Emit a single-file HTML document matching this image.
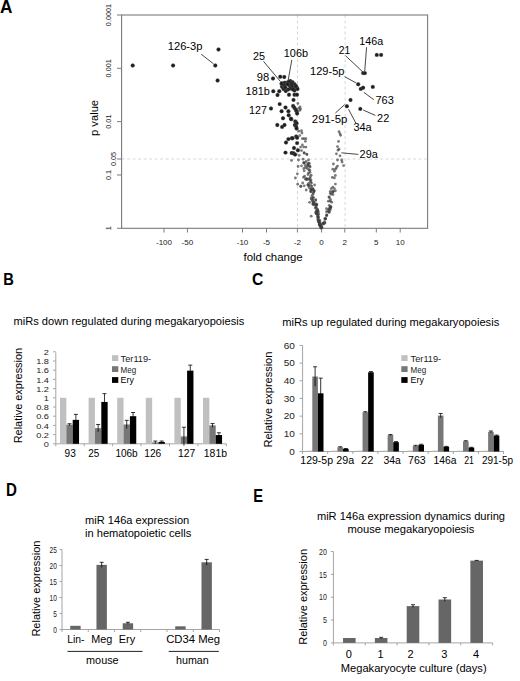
<!DOCTYPE html>
<html><head><meta charset="utf-8"><style>
html,body{margin:0;padding:0;background:#fff;width:520px;height:681px;overflow:hidden}
svg{display:block}
text{font-family:"Liberation Sans", sans-serif;}
</style></head><body>
<svg width="520" height="681" viewBox="0 0 520 681">
<rect width="520" height="681" fill="#fff"/>
<text x="-0.1" y="12.5" font-size="17.5" text-anchor="start" fill="#000" font-weight="bold" textLength="12.44" lengthAdjust="spacingAndGlyphs">A</text>
<line x1="121.6" y1="159.0" x2="427.6" y2="159.0" stroke="#d8d8d8" stroke-width="1" stroke-dasharray="3,2.5"/>
<line x1="297.5" y1="15.0" x2="297.5" y2="228.3" stroke="#d8d8d8" stroke-width="1" stroke-dasharray="3,2.5"/>
<line x1="345.1" y1="15.0" x2="345.1" y2="228.3" stroke="#d8d8d8" stroke-width="1" stroke-dasharray="3,2.5"/>
<rect x="121.6" y="15.0" width="306.0" height="213.3" fill="none" stroke="#7a7a7a" stroke-width="1.1"/>
<line x1="117" y1="15.0" x2="121.6" y2="15.0" stroke="#7a7a7a" stroke-width="1"/>
<text x="111" y="26.15" font-size="7.8" text-anchor="start" fill="#222" transform="rotate(-90 111 26.15)" textLength="22.29" lengthAdjust="spacingAndGlyphs">0.0001</text>
<line x1="117" y1="68.325" x2="121.6" y2="68.325" stroke="#7a7a7a" stroke-width="1"/>
<text x="111" y="77.45" font-size="7.8" text-anchor="start" fill="#222" transform="rotate(-90 111 77.45)" textLength="18.24" lengthAdjust="spacingAndGlyphs">0.001</text>
<line x1="117" y1="121.65" x2="121.6" y2="121.65" stroke="#7a7a7a" stroke-width="1"/>
<text x="111" y="128.74" font-size="7.8" text-anchor="start" fill="#222" transform="rotate(-90 111 128.74)" textLength="14.18" lengthAdjust="spacingAndGlyphs">0.01</text>
<line x1="117" y1="159.0" x2="121.6" y2="159.0" stroke="#7a7a7a" stroke-width="1"/>
<text x="115.6" y="166.09" font-size="7.8" text-anchor="start" fill="#222" transform="rotate(-90 115.6 166.09)" textLength="14.18" lengthAdjust="spacingAndGlyphs">0.05</text>
<line x1="117" y1="174.97500000000002" x2="121.6" y2="174.97500000000002" stroke="#7a7a7a" stroke-width="1"/>
<text x="111" y="180.04" font-size="7.8" text-anchor="start" fill="#222" transform="rotate(-90 111 180.04)" textLength="10.13" lengthAdjust="spacingAndGlyphs">0.1</text>
<line x1="117" y1="228.3" x2="121.6" y2="228.3" stroke="#7a7a7a" stroke-width="1"/>
<text x="111" y="230.32" font-size="7.8" text-anchor="start" fill="#222" transform="rotate(-90 111 230.32)" textLength="4.05" lengthAdjust="spacingAndGlyphs">1</text>
<text x="97.9" y="136.0" font-size="11" text-anchor="start" fill="#000" transform="rotate(-90 97.9 136.0)" textLength="36.10" lengthAdjust="spacingAndGlyphs">p value</text>
<line x1="164" y1="228.3" x2="164" y2="232.5" stroke="#7a7a7a" stroke-width="1"/>
<text x="164" y="245.3" font-size="8" text-anchor="middle" fill="#222">-100</text>
<line x1="187.4" y1="228.3" x2="187.4" y2="232.5" stroke="#7a7a7a" stroke-width="1"/>
<text x="187.4" y="245.3" font-size="8" text-anchor="middle" fill="#222">-50</text>
<line x1="242.5" y1="228.3" x2="242.5" y2="232.5" stroke="#7a7a7a" stroke-width="1"/>
<text x="242.5" y="245.3" font-size="8" text-anchor="middle" fill="#222">-10</text>
<line x1="266.5" y1="228.3" x2="266.5" y2="232.5" stroke="#7a7a7a" stroke-width="1"/>
<text x="266.5" y="245.3" font-size="8" text-anchor="middle" fill="#222">-5</text>
<line x1="297.4" y1="228.3" x2="297.4" y2="232.5" stroke="#7a7a7a" stroke-width="1"/>
<text x="297.4" y="245.3" font-size="8" text-anchor="middle" fill="#222">-2</text>
<line x1="321.6" y1="228.3" x2="321.6" y2="232.5" stroke="#7a7a7a" stroke-width="1"/>
<text x="321.6" y="245.3" font-size="8" text-anchor="middle" fill="#222">0</text>
<line x1="344.8" y1="228.3" x2="344.8" y2="232.5" stroke="#7a7a7a" stroke-width="1"/>
<text x="344.8" y="245.3" font-size="8" text-anchor="middle" fill="#222">2</text>
<line x1="376.3" y1="228.3" x2="376.3" y2="232.5" stroke="#7a7a7a" stroke-width="1"/>
<text x="376.3" y="245.3" font-size="8" text-anchor="middle" fill="#222">5</text>
<line x1="400.2" y1="228.3" x2="400.2" y2="232.5" stroke="#7a7a7a" stroke-width="1"/>
<text x="400.2" y="245.3" font-size="8" text-anchor="middle" fill="#222">10</text>
<text x="243.5" y="261.1" font-size="11.8" text-anchor="start" fill="#000" textLength="59.21" lengthAdjust="spacingAndGlyphs">fold change</text>
<circle cx="316.31" cy="213.75" r="1.4" fill="#3c3c3c" fill-opacity="0.68"/>
<circle cx="311.51" cy="199.36" r="1.4" fill="#3c3c3c" fill-opacity="0.68"/>
<circle cx="314.33" cy="204.42" r="1.4" fill="#3c3c3c" fill-opacity="0.68"/>
<circle cx="320.51" cy="225.45" r="1.4" fill="#3c3c3c" fill-opacity="0.68"/>
<circle cx="320.64" cy="226.35" r="1.4" fill="#3c3c3c" fill-opacity="0.68"/>
<circle cx="319.58" cy="224.93" r="1.4" fill="#3c3c3c" fill-opacity="0.68"/>
<circle cx="317.51" cy="209.32" r="1.4" fill="#3c3c3c" fill-opacity="0.68"/>
<circle cx="319.03" cy="222.55" r="1.4" fill="#3c3c3c" fill-opacity="0.68"/>
<circle cx="315.66" cy="200.39" r="1.4" fill="#3c3c3c" fill-opacity="0.68"/>
<circle cx="313.89" cy="202.61" r="1.4" fill="#3c3c3c" fill-opacity="0.68"/>
<circle cx="307.79" cy="185.04" r="1.4" fill="#3c3c3c" fill-opacity="0.68"/>
<circle cx="310.90" cy="190.23" r="1.4" fill="#3c3c3c" fill-opacity="0.68"/>
<circle cx="318.45" cy="221.65" r="1.4" fill="#3c3c3c" fill-opacity="0.68"/>
<circle cx="318.67" cy="214.43" r="1.4" fill="#3c3c3c" fill-opacity="0.68"/>
<circle cx="319.26" cy="220.05" r="1.4" fill="#3c3c3c" fill-opacity="0.68"/>
<circle cx="312.96" cy="199.89" r="1.4" fill="#3c3c3c" fill-opacity="0.68"/>
<circle cx="312.92" cy="203.90" r="1.4" fill="#3c3c3c" fill-opacity="0.68"/>
<circle cx="319.95" cy="225.38" r="1.4" fill="#3c3c3c" fill-opacity="0.68"/>
<circle cx="312.89" cy="198.06" r="1.4" fill="#3c3c3c" fill-opacity="0.68"/>
<circle cx="317.86" cy="214.18" r="1.4" fill="#3c3c3c" fill-opacity="0.68"/>
<circle cx="315.23" cy="208.06" r="1.4" fill="#3c3c3c" fill-opacity="0.68"/>
<circle cx="313.29" cy="193.05" r="1.4" fill="#3c3c3c" fill-opacity="0.68"/>
<circle cx="318.56" cy="217.26" r="1.4" fill="#3c3c3c" fill-opacity="0.68"/>
<circle cx="316.52" cy="204.89" r="1.4" fill="#3c3c3c" fill-opacity="0.68"/>
<circle cx="311.88" cy="195.90" r="1.4" fill="#3c3c3c" fill-opacity="0.68"/>
<circle cx="308.14" cy="184.87" r="1.4" fill="#3c3c3c" fill-opacity="0.68"/>
<circle cx="317.34" cy="209.60" r="1.4" fill="#3c3c3c" fill-opacity="0.68"/>
<circle cx="319.33" cy="221.31" r="1.4" fill="#3c3c3c" fill-opacity="0.68"/>
<circle cx="320.99" cy="226.27" r="1.4" fill="#3c3c3c" fill-opacity="0.68"/>
<circle cx="312.93" cy="194.36" r="1.4" fill="#3c3c3c" fill-opacity="0.68"/>
<circle cx="310.80" cy="189.48" r="1.4" fill="#3c3c3c" fill-opacity="0.68"/>
<circle cx="313.54" cy="197.41" r="1.4" fill="#3c3c3c" fill-opacity="0.68"/>
<circle cx="314.11" cy="202.48" r="1.4" fill="#3c3c3c" fill-opacity="0.68"/>
<circle cx="314.11" cy="191.04" r="1.4" fill="#3c3c3c" fill-opacity="0.68"/>
<circle cx="316.31" cy="207.14" r="1.4" fill="#3c3c3c" fill-opacity="0.68"/>
<circle cx="320.83" cy="225.33" r="1.4" fill="#3c3c3c" fill-opacity="0.68"/>
<circle cx="315.69" cy="199.53" r="1.4" fill="#3c3c3c" fill-opacity="0.68"/>
<circle cx="311.16" cy="191.84" r="1.4" fill="#3c3c3c" fill-opacity="0.68"/>
<circle cx="317.38" cy="211.03" r="1.4" fill="#3c3c3c" fill-opacity="0.68"/>
<circle cx="320.87" cy="227.01" r="1.4" fill="#3c3c3c" fill-opacity="0.68"/>
<circle cx="318.07" cy="220.61" r="1.4" fill="#3c3c3c" fill-opacity="0.68"/>
<circle cx="320.97" cy="225.41" r="1.4" fill="#3c3c3c" fill-opacity="0.68"/>
<circle cx="319.01" cy="222.31" r="1.4" fill="#3c3c3c" fill-opacity="0.68"/>
<circle cx="318.03" cy="210.80" r="1.4" fill="#3c3c3c" fill-opacity="0.68"/>
<circle cx="320.12" cy="224.45" r="1.4" fill="#3c3c3c" fill-opacity="0.68"/>
<circle cx="316.28" cy="203.82" r="1.4" fill="#3c3c3c" fill-opacity="0.68"/>
<circle cx="313.88" cy="191.95" r="1.4" fill="#3c3c3c" fill-opacity="0.68"/>
<circle cx="317.69" cy="215.75" r="1.4" fill="#3c3c3c" fill-opacity="0.68"/>
<circle cx="318.39" cy="212.21" r="1.4" fill="#3c3c3c" fill-opacity="0.68"/>
<circle cx="308.70" cy="185.86" r="1.4" fill="#3c3c3c" fill-opacity="0.68"/>
<circle cx="318.28" cy="220.25" r="1.4" fill="#3c3c3c" fill-opacity="0.68"/>
<circle cx="318.40" cy="217.73" r="1.4" fill="#3c3c3c" fill-opacity="0.68"/>
<circle cx="313.16" cy="202.08" r="1.4" fill="#3c3c3c" fill-opacity="0.68"/>
<circle cx="321.05" cy="227.82" r="1.4" fill="#3c3c3c" fill-opacity="0.68"/>
<circle cx="317.21" cy="211.75" r="1.4" fill="#3c3c3c" fill-opacity="0.68"/>
<circle cx="311.80" cy="186.06" r="1.4" fill="#3c3c3c" fill-opacity="0.68"/>
<circle cx="315.61" cy="205.32" r="1.4" fill="#3c3c3c" fill-opacity="0.68"/>
<circle cx="311.23" cy="198.25" r="1.4" fill="#3c3c3c" fill-opacity="0.68"/>
<circle cx="312.82" cy="188.42" r="1.4" fill="#3c3c3c" fill-opacity="0.68"/>
<circle cx="313.15" cy="189.52" r="1.4" fill="#3c3c3c" fill-opacity="0.68"/>
<circle cx="316.38" cy="210.74" r="1.4" fill="#3c3c3c" fill-opacity="0.68"/>
<circle cx="320.25" cy="223.44" r="1.4" fill="#3c3c3c" fill-opacity="0.68"/>
<circle cx="319.66" cy="225.26" r="1.4" fill="#3c3c3c" fill-opacity="0.68"/>
<circle cx="317.68" cy="218.81" r="1.4" fill="#3c3c3c" fill-opacity="0.68"/>
<circle cx="315.80" cy="213.04" r="1.4" fill="#3c3c3c" fill-opacity="0.68"/>
<circle cx="320.78" cy="227.99" r="1.4" fill="#3c3c3c" fill-opacity="0.68"/>
<circle cx="319.67" cy="223.54" r="1.4" fill="#3c3c3c" fill-opacity="0.68"/>
<circle cx="321.44" cy="226.88" r="1.4" fill="#3c3c3c" fill-opacity="0.68"/>
<circle cx="312.30" cy="200.98" r="1.4" fill="#3c3c3c" fill-opacity="0.68"/>
<circle cx="317.76" cy="216.90" r="1.4" fill="#3c3c3c" fill-opacity="0.68"/>
<circle cx="315.75" cy="211.98" r="1.4" fill="#3c3c3c" fill-opacity="0.68"/>
<circle cx="314.27" cy="190.65" r="1.4" fill="#3c3c3c" fill-opacity="0.68"/>
<circle cx="315.74" cy="207.50" r="1.4" fill="#3c3c3c" fill-opacity="0.68"/>
<circle cx="319.35" cy="224.22" r="1.4" fill="#3c3c3c" fill-opacity="0.68"/>
<circle cx="316.48" cy="212.92" r="1.4" fill="#3c3c3c" fill-opacity="0.68"/>
<circle cx="310.53" cy="191.53" r="1.4" fill="#3c3c3c" fill-opacity="0.68"/>
<circle cx="321.56" cy="226.98" r="1.4" fill="#3c3c3c" fill-opacity="0.68"/>
<circle cx="313.55" cy="204.76" r="1.4" fill="#3c3c3c" fill-opacity="0.68"/>
<circle cx="312.85" cy="204.10" r="1.4" fill="#3c3c3c" fill-opacity="0.68"/>
<circle cx="316.90" cy="204.76" r="1.4" fill="#3c3c3c" fill-opacity="0.68"/>
<circle cx="312.77" cy="190.01" r="1.4" fill="#3c3c3c" fill-opacity="0.68"/>
<circle cx="317.72" cy="216.51" r="1.4" fill="#3c3c3c" fill-opacity="0.68"/>
<circle cx="319.95" cy="220.65" r="1.4" fill="#3c3c3c" fill-opacity="0.68"/>
<circle cx="316.05" cy="204.57" r="1.4" fill="#3c3c3c" fill-opacity="0.68"/>
<circle cx="316.49" cy="213.49" r="1.4" fill="#3c3c3c" fill-opacity="0.68"/>
<circle cx="309.79" cy="166.15" r="1.4" fill="#3c3c3c" fill-opacity="0.68"/>
<circle cx="308.10" cy="165.24" r="1.4" fill="#3c3c3c" fill-opacity="0.68"/>
<circle cx="307.66" cy="166.00" r="1.4" fill="#3c3c3c" fill-opacity="0.68"/>
<circle cx="308.88" cy="179.01" r="1.4" fill="#3c3c3c" fill-opacity="0.68"/>
<circle cx="304.57" cy="176.18" r="1.4" fill="#3c3c3c" fill-opacity="0.68"/>
<circle cx="308.59" cy="183.39" r="1.4" fill="#3c3c3c" fill-opacity="0.68"/>
<circle cx="309.95" cy="178.30" r="1.4" fill="#3c3c3c" fill-opacity="0.68"/>
<circle cx="304.44" cy="162.96" r="1.4" fill="#3c3c3c" fill-opacity="0.68"/>
<circle cx="309.40" cy="163.39" r="1.4" fill="#3c3c3c" fill-opacity="0.68"/>
<circle cx="303.70" cy="162.99" r="1.4" fill="#3c3c3c" fill-opacity="0.68"/>
<circle cx="306.85" cy="179.15" r="1.4" fill="#3c3c3c" fill-opacity="0.68"/>
<circle cx="306.84" cy="179.67" r="1.4" fill="#3c3c3c" fill-opacity="0.68"/>
<circle cx="309.76" cy="170.27" r="1.4" fill="#3c3c3c" fill-opacity="0.68"/>
<circle cx="305.31" cy="165.51" r="1.4" fill="#3c3c3c" fill-opacity="0.68"/>
<circle cx="308.83" cy="169.63" r="1.4" fill="#3c3c3c" fill-opacity="0.68"/>
<circle cx="310.65" cy="182.13" r="1.4" fill="#3c3c3c" fill-opacity="0.68"/>
<circle cx="307.66" cy="163.98" r="1.4" fill="#3c3c3c" fill-opacity="0.68"/>
<circle cx="305.75" cy="167.50" r="1.4" fill="#3c3c3c" fill-opacity="0.68"/>
<circle cx="311.04" cy="180.07" r="1.4" fill="#3c3c3c" fill-opacity="0.68"/>
<circle cx="310.38" cy="176.68" r="1.4" fill="#3c3c3c" fill-opacity="0.68"/>
<circle cx="303.89" cy="162.62" r="1.4" fill="#3c3c3c" fill-opacity="0.68"/>
<circle cx="311.14" cy="175.17" r="1.4" fill="#3c3c3c" fill-opacity="0.68"/>
<circle cx="328.37" cy="201.18" r="1.4" fill="#3c3c3c" fill-opacity="0.68"/>
<circle cx="323.05" cy="223.30" r="1.4" fill="#3c3c3c" fill-opacity="0.68"/>
<circle cx="332.98" cy="194.52" r="1.4" fill="#3c3c3c" fill-opacity="0.68"/>
<circle cx="324.84" cy="222.59" r="1.4" fill="#3c3c3c" fill-opacity="0.68"/>
<circle cx="332.76" cy="191.73" r="1.4" fill="#3c3c3c" fill-opacity="0.68"/>
<circle cx="326.91" cy="215.03" r="1.4" fill="#3c3c3c" fill-opacity="0.68"/>
<circle cx="322.81" cy="223.15" r="1.4" fill="#3c3c3c" fill-opacity="0.68"/>
<circle cx="332.65" cy="192.08" r="1.4" fill="#3c3c3c" fill-opacity="0.68"/>
<circle cx="330.47" cy="208.52" r="1.4" fill="#3c3c3c" fill-opacity="0.68"/>
<circle cx="329.16" cy="211.95" r="1.4" fill="#3c3c3c" fill-opacity="0.68"/>
<circle cx="329.26" cy="197.43" r="1.4" fill="#3c3c3c" fill-opacity="0.68"/>
<circle cx="324.99" cy="218.68" r="1.4" fill="#3c3c3c" fill-opacity="0.68"/>
<circle cx="325.73" cy="219.10" r="1.4" fill="#3c3c3c" fill-opacity="0.68"/>
<circle cx="325.45" cy="218.40" r="1.4" fill="#3c3c3c" fill-opacity="0.68"/>
<circle cx="324.75" cy="223.15" r="1.4" fill="#3c3c3c" fill-opacity="0.68"/>
<circle cx="326.63" cy="214.91" r="1.4" fill="#3c3c3c" fill-opacity="0.68"/>
<circle cx="330.83" cy="206.42" r="1.4" fill="#3c3c3c" fill-opacity="0.68"/>
<circle cx="329.16" cy="212.44" r="1.4" fill="#3c3c3c" fill-opacity="0.68"/>
<circle cx="328.54" cy="209.44" r="1.4" fill="#3c3c3c" fill-opacity="0.68"/>
<circle cx="326.49" cy="208.63" r="1.4" fill="#3c3c3c" fill-opacity="0.68"/>
<circle cx="326.51" cy="211.72" r="1.4" fill="#3c3c3c" fill-opacity="0.68"/>
<circle cx="322.23" cy="227.85" r="1.4" fill="#3c3c3c" fill-opacity="0.68"/>
<circle cx="324.44" cy="221.62" r="1.4" fill="#3c3c3c" fill-opacity="0.68"/>
<circle cx="330.30" cy="201.17" r="1.4" fill="#3c3c3c" fill-opacity="0.68"/>
<circle cx="326.52" cy="215.94" r="1.4" fill="#3c3c3c" fill-opacity="0.68"/>
<circle cx="330.06" cy="207.45" r="1.4" fill="#3c3c3c" fill-opacity="0.68"/>
<circle cx="323.59" cy="224.07" r="1.4" fill="#3c3c3c" fill-opacity="0.68"/>
<circle cx="324.91" cy="218.81" r="1.4" fill="#3c3c3c" fill-opacity="0.68"/>
<circle cx="330.40" cy="199.43" r="1.4" fill="#3c3c3c" fill-opacity="0.68"/>
<circle cx="330.00" cy="207.22" r="1.4" fill="#3c3c3c" fill-opacity="0.68"/>
<circle cx="331.10" cy="194.24" r="1.4" fill="#3c3c3c" fill-opacity="0.68"/>
<circle cx="329.24" cy="205.34" r="1.4" fill="#3c3c3c" fill-opacity="0.68"/>
<circle cx="329.31" cy="209.05" r="1.4" fill="#3c3c3c" fill-opacity="0.68"/>
<circle cx="328.04" cy="211.26" r="1.4" fill="#3c3c3c" fill-opacity="0.68"/>
<circle cx="330.04" cy="210.31" r="1.4" fill="#3c3c3c" fill-opacity="0.68"/>
<circle cx="331.68" cy="202.13" r="1.4" fill="#3c3c3c" fill-opacity="0.68"/>
<circle cx="330.33" cy="193.14" r="1.4" fill="#3c3c3c" fill-opacity="0.68"/>
<circle cx="330.80" cy="207.30" r="1.4" fill="#3c3c3c" fill-opacity="0.68"/>
<circle cx="328.97" cy="196.92" r="1.4" fill="#3c3c3c" fill-opacity="0.68"/>
<circle cx="323.59" cy="223.50" r="1.4" fill="#3c3c3c" fill-opacity="0.68"/>
<circle cx="299.20" cy="155.40" r="1.4" fill="#3c3c3c" fill-opacity="0.68"/>
<circle cx="304.20" cy="153.00" r="1.4" fill="#3c3c3c" fill-opacity="0.68"/>
<circle cx="306.90" cy="154.60" r="1.4" fill="#3c3c3c" fill-opacity="0.68"/>
<circle cx="291.50" cy="160.40" r="1.4" fill="#3c3c3c" fill-opacity="0.68"/>
<circle cx="298.50" cy="160.00" r="1.4" fill="#3c3c3c" fill-opacity="0.68"/>
<circle cx="303.00" cy="159.20" r="1.4" fill="#3c3c3c" fill-opacity="0.68"/>
<circle cx="306.20" cy="161.50" r="1.4" fill="#3c3c3c" fill-opacity="0.68"/>
<circle cx="308.50" cy="160.00" r="1.4" fill="#3c3c3c" fill-opacity="0.68"/>
<circle cx="308.50" cy="163.50" r="1.4" fill="#3c3c3c" fill-opacity="0.68"/>
<circle cx="298.10" cy="166.50" r="1.4" fill="#3c3c3c" fill-opacity="0.68"/>
<circle cx="301.50" cy="165.80" r="1.4" fill="#3c3c3c" fill-opacity="0.68"/>
<circle cx="303.80" cy="168.50" r="1.4" fill="#3c3c3c" fill-opacity="0.68"/>
<circle cx="307.30" cy="168.50" r="1.4" fill="#3c3c3c" fill-opacity="0.68"/>
<circle cx="310.00" cy="166.90" r="1.4" fill="#3c3c3c" fill-opacity="0.68"/>
<circle cx="304.20" cy="170.80" r="1.4" fill="#3c3c3c" fill-opacity="0.68"/>
<circle cx="308.50" cy="173.00" r="1.4" fill="#3c3c3c" fill-opacity="0.68"/>
<circle cx="308.00" cy="174.60" r="1.4" fill="#3c3c3c" fill-opacity="0.68"/>
<circle cx="310.00" cy="172.30" r="1.4" fill="#3c3c3c" fill-opacity="0.68"/>
<circle cx="297.30" cy="173.80" r="1.4" fill="#3c3c3c" fill-opacity="0.68"/>
<circle cx="295.40" cy="178.00" r="1.4" fill="#3c3c3c" fill-opacity="0.68"/>
<circle cx="303.50" cy="177.30" r="1.4" fill="#3c3c3c" fill-opacity="0.68"/>
<circle cx="305.40" cy="179.20" r="1.4" fill="#3c3c3c" fill-opacity="0.68"/>
<circle cx="306.50" cy="178.50" r="1.4" fill="#3c3c3c" fill-opacity="0.68"/>
<circle cx="310.00" cy="180.40" r="1.4" fill="#3c3c3c" fill-opacity="0.68"/>
<circle cx="311.50" cy="183.00" r="1.4" fill="#3c3c3c" fill-opacity="0.68"/>
<circle cx="310.40" cy="185.40" r="1.4" fill="#3c3c3c" fill-opacity="0.68"/>
<circle cx="297.70" cy="184.20" r="1.4" fill="#3c3c3c" fill-opacity="0.68"/>
<circle cx="302.70" cy="183.00" r="1.4" fill="#3c3c3c" fill-opacity="0.68"/>
<circle cx="300.80" cy="186.20" r="1.4" fill="#3c3c3c" fill-opacity="0.68"/>
<circle cx="314.60" cy="185.00" r="1.4" fill="#3c3c3c" fill-opacity="0.68"/>
<circle cx="309.20" cy="187.70" r="1.4" fill="#3c3c3c" fill-opacity="0.68"/>
<circle cx="311.20" cy="188.50" r="1.4" fill="#3c3c3c" fill-opacity="0.68"/>
<circle cx="311.20" cy="216.20" r="1.4" fill="#3c3c3c" fill-opacity="0.68"/>
<circle cx="309.60" cy="202.30" r="1.4" fill="#3c3c3c" fill-opacity="0.68"/>
<circle cx="306.20" cy="190.00" r="1.4" fill="#3c3c3c" fill-opacity="0.68"/>
<circle cx="300.80" cy="186.50" r="1.4" fill="#3c3c3c" fill-opacity="0.68"/>
<circle cx="304.20" cy="185.80" r="1.4" fill="#3c3c3c" fill-opacity="0.68"/>
<circle cx="339.00" cy="131.70" r="1.4" fill="#3c3c3c" fill-opacity="0.68"/>
<circle cx="340.00" cy="133.70" r="1.4" fill="#3c3c3c" fill-opacity="0.68"/>
<circle cx="340.60" cy="135.30" r="1.4" fill="#3c3c3c" fill-opacity="0.68"/>
<circle cx="338.50" cy="141.40" r="1.4" fill="#3c3c3c" fill-opacity="0.68"/>
<circle cx="337.50" cy="146.60" r="1.4" fill="#3c3c3c" fill-opacity="0.68"/>
<circle cx="339.00" cy="149.20" r="1.4" fill="#3c3c3c" fill-opacity="0.68"/>
<circle cx="338.00" cy="150.20" r="1.4" fill="#3c3c3c" fill-opacity="0.68"/>
<circle cx="336.40" cy="153.80" r="1.4" fill="#3c3c3c" fill-opacity="0.68"/>
<circle cx="340.00" cy="155.80" r="1.4" fill="#3c3c3c" fill-opacity="0.68"/>
<circle cx="337.50" cy="160.00" r="1.4" fill="#3c3c3c" fill-opacity="0.68"/>
<circle cx="341.60" cy="160.00" r="1.4" fill="#3c3c3c" fill-opacity="0.68"/>
<circle cx="342.10" cy="162.00" r="1.4" fill="#3c3c3c" fill-opacity="0.68"/>
<circle cx="343.60" cy="165.60" r="1.4" fill="#3c3c3c" fill-opacity="0.68"/>
<circle cx="333.40" cy="164.00" r="1.4" fill="#3c3c3c" fill-opacity="0.68"/>
<circle cx="337.50" cy="166.10" r="1.4" fill="#3c3c3c" fill-opacity="0.68"/>
<circle cx="336.40" cy="167.70" r="1.4" fill="#3c3c3c" fill-opacity="0.68"/>
<circle cx="335.40" cy="169.20" r="1.4" fill="#3c3c3c" fill-opacity="0.68"/>
<circle cx="332.80" cy="169.20" r="1.4" fill="#3c3c3c" fill-opacity="0.68"/>
<circle cx="334.40" cy="171.20" r="1.4" fill="#3c3c3c" fill-opacity="0.68"/>
<circle cx="335.40" cy="175.40" r="1.4" fill="#3c3c3c" fill-opacity="0.68"/>
<circle cx="332.30" cy="177.40" r="1.4" fill="#3c3c3c" fill-opacity="0.68"/>
<circle cx="334.40" cy="177.90" r="1.4" fill="#3c3c3c" fill-opacity="0.68"/>
<circle cx="335.40" cy="184.10" r="1.4" fill="#3c3c3c" fill-opacity="0.68"/>
<circle cx="332.80" cy="187.20" r="1.4" fill="#3c3c3c" fill-opacity="0.68"/>
<circle cx="331.30" cy="188.70" r="1.4" fill="#3c3c3c" fill-opacity="0.68"/>
<circle cx="334.40" cy="188.70" r="1.4" fill="#3c3c3c" fill-opacity="0.68"/>
<circle cx="330.30" cy="191.30" r="1.4" fill="#3c3c3c" fill-opacity="0.68"/>
<circle cx="333.40" cy="191.30" r="1.4" fill="#3c3c3c" fill-opacity="0.68"/>
<circle cx="335.40" cy="190.80" r="1.4" fill="#3c3c3c" fill-opacity="0.68"/>
<circle cx="297.90" cy="103.40" r="1.4" fill="#3c3c3c" fill-opacity="0.68"/>
<circle cx="298.80" cy="108.20" r="1.4" fill="#3c3c3c" fill-opacity="0.68"/>
<circle cx="300.10" cy="106.90" r="1.4" fill="#3c3c3c" fill-opacity="0.68"/>
<circle cx="300.60" cy="109.10" r="1.4" fill="#3c3c3c" fill-opacity="0.68"/>
<circle cx="299.70" cy="110.40" r="1.4" fill="#3c3c3c" fill-opacity="0.68"/>
<circle cx="298.80" cy="131.20" r="1.4" fill="#3c3c3c" fill-opacity="0.68"/>
<circle cx="301.50" cy="130.70" r="1.4" fill="#3c3c3c" fill-opacity="0.68"/>
<circle cx="301.90" cy="133.00" r="1.4" fill="#3c3c3c" fill-opacity="0.68"/>
<circle cx="299.70" cy="135.60" r="1.4" fill="#3c3c3c" fill-opacity="0.68"/>
<circle cx="302.40" cy="138.70" r="1.4" fill="#3c3c3c" fill-opacity="0.68"/>
<circle cx="304.10" cy="138.70" r="1.4" fill="#3c3c3c" fill-opacity="0.68"/>
<circle cx="305.90" cy="138.70" r="1.4" fill="#3c3c3c" fill-opacity="0.68"/>
<circle cx="305.40" cy="141.30" r="1.4" fill="#3c3c3c" fill-opacity="0.68"/>
<circle cx="302.40" cy="144.90" r="1.4" fill="#3c3c3c" fill-opacity="0.68"/>
<circle cx="300.60" cy="147.10" r="1.4" fill="#3c3c3c" fill-opacity="0.68"/>
<circle cx="303.70" cy="147.10" r="1.4" fill="#3c3c3c" fill-opacity="0.68"/>
<circle cx="305.90" cy="147.10" r="1.4" fill="#3c3c3c" fill-opacity="0.68"/>
<circle cx="301.50" cy="150.60" r="1.4" fill="#3c3c3c" fill-opacity="0.68"/>
<circle cx="304.10" cy="152.80" r="1.4" fill="#3c3c3c" fill-opacity="0.68"/>
<circle cx="306.80" cy="154.10" r="1.4" fill="#3c3c3c" fill-opacity="0.68"/>
<circle cx="132.70" cy="65.50" r="1.95" fill="#1e1e1e" stroke="#888" stroke-width="0.35" stroke-opacity="0.7"/>
<circle cx="173.10" cy="65.50" r="1.95" fill="#1e1e1e" stroke="#888" stroke-width="0.35" stroke-opacity="0.7"/>
<circle cx="215.30" cy="65.50" r="1.95" fill="#1e1e1e" stroke="#888" stroke-width="0.35" stroke-opacity="0.7"/>
<circle cx="218.50" cy="49.50" r="1.95" fill="#1e1e1e" stroke="#888" stroke-width="0.35" stroke-opacity="0.7"/>
<circle cx="217.60" cy="80.50" r="1.95" fill="#1e1e1e" stroke="#888" stroke-width="0.35" stroke-opacity="0.7"/>
<circle cx="273.00" cy="78.50" r="1.95" fill="#1e1e1e" stroke="#888" stroke-width="0.35" stroke-opacity="0.7"/>
<circle cx="280.25" cy="76.75" r="1.95" fill="#1e1e1e" stroke="#888" stroke-width="0.35" stroke-opacity="0.7"/>
<circle cx="284.25" cy="77.00" r="1.95" fill="#1e1e1e" stroke="#888" stroke-width="0.35" stroke-opacity="0.7"/>
<circle cx="282.00" cy="83.25" r="1.95" fill="#1e1e1e" stroke="#888" stroke-width="0.35" stroke-opacity="0.7"/>
<circle cx="284.75" cy="82.75" r="1.95" fill="#1e1e1e" stroke="#888" stroke-width="0.35" stroke-opacity="0.7"/>
<circle cx="287.50" cy="82.50" r="1.95" fill="#1e1e1e" stroke="#888" stroke-width="0.35" stroke-opacity="0.7"/>
<circle cx="290.25" cy="81.00" r="1.95" fill="#1e1e1e" stroke="#888" stroke-width="0.35" stroke-opacity="0.7"/>
<circle cx="292.50" cy="82.25" r="1.95" fill="#1e1e1e" stroke="#888" stroke-width="0.35" stroke-opacity="0.7"/>
<circle cx="294.50" cy="84.25" r="1.95" fill="#1e1e1e" stroke="#888" stroke-width="0.35" stroke-opacity="0.7"/>
<circle cx="282.00" cy="86.75" r="1.95" fill="#1e1e1e" stroke="#888" stroke-width="0.35" stroke-opacity="0.7"/>
<circle cx="284.25" cy="85.25" r="1.95" fill="#1e1e1e" stroke="#888" stroke-width="0.35" stroke-opacity="0.7"/>
<circle cx="289.50" cy="85.50" r="1.95" fill="#1e1e1e" stroke="#888" stroke-width="0.35" stroke-opacity="0.7"/>
<circle cx="291.50" cy="84.00" r="1.95" fill="#1e1e1e" stroke="#888" stroke-width="0.35" stroke-opacity="0.7"/>
<circle cx="292.50" cy="86.50" r="1.95" fill="#1e1e1e" stroke="#888" stroke-width="0.35" stroke-opacity="0.7"/>
<circle cx="290.50" cy="88.50" r="1.95" fill="#1e1e1e" stroke="#888" stroke-width="0.35" stroke-opacity="0.7"/>
<circle cx="288.00" cy="89.50" r="1.95" fill="#1e1e1e" stroke="#888" stroke-width="0.35" stroke-opacity="0.7"/>
<circle cx="285.75" cy="91.00" r="1.95" fill="#1e1e1e" stroke="#888" stroke-width="0.35" stroke-opacity="0.7"/>
<circle cx="295.00" cy="87.50" r="1.95" fill="#1e1e1e" stroke="#888" stroke-width="0.35" stroke-opacity="0.7"/>
<circle cx="297.00" cy="88.00" r="1.95" fill="#1e1e1e" stroke="#888" stroke-width="0.35" stroke-opacity="0.7"/>
<circle cx="297.50" cy="89.00" r="1.95" fill="#1e1e1e" stroke="#888" stroke-width="0.35" stroke-opacity="0.7"/>
<circle cx="294.50" cy="90.50" r="1.95" fill="#1e1e1e" stroke="#888" stroke-width="0.35" stroke-opacity="0.7"/>
<circle cx="293.00" cy="89.50" r="1.95" fill="#1e1e1e" stroke="#888" stroke-width="0.35" stroke-opacity="0.7"/>
<circle cx="283.50" cy="89.00" r="1.95" fill="#1e1e1e" stroke="#888" stroke-width="0.35" stroke-opacity="0.7"/>
<circle cx="281.50" cy="83.80" r="1.95" fill="#1e1e1e" stroke="#888" stroke-width="0.35" stroke-opacity="0.7"/>
<circle cx="289.00" cy="81.80" r="1.95" fill="#1e1e1e" stroke="#888" stroke-width="0.35" stroke-opacity="0.7"/>
<circle cx="296.00" cy="86.00" r="1.95" fill="#1e1e1e" stroke="#888" stroke-width="0.35" stroke-opacity="0.7"/>
<circle cx="285.20" cy="87.40" r="1.95" fill="#1e1e1e" stroke="#888" stroke-width="0.35" stroke-opacity="0.7"/>
<circle cx="287.60" cy="84.20" r="1.95" fill="#1e1e1e" stroke="#888" stroke-width="0.35" stroke-opacity="0.7"/>
<circle cx="279.25" cy="91.25" r="1.95" fill="#1e1e1e" stroke="#888" stroke-width="0.35" stroke-opacity="0.7"/>
<circle cx="273.30" cy="91.20" r="1.95" fill="#1e1e1e" stroke="#888" stroke-width="0.35" stroke-opacity="0.7"/>
<circle cx="277.50" cy="95.00" r="1.95" fill="#1e1e1e" stroke="#888" stroke-width="0.35" stroke-opacity="0.7"/>
<circle cx="289.00" cy="94.75" r="1.95" fill="#1e1e1e" stroke="#888" stroke-width="0.35" stroke-opacity="0.7"/>
<circle cx="294.50" cy="94.75" r="1.95" fill="#1e1e1e" stroke="#888" stroke-width="0.35" stroke-opacity="0.7"/>
<circle cx="297.00" cy="94.75" r="1.95" fill="#1e1e1e" stroke="#888" stroke-width="0.35" stroke-opacity="0.7"/>
<circle cx="293.50" cy="99.90" r="1.95" fill="#1e1e1e" stroke="#888" stroke-width="0.35" stroke-opacity="0.7"/>
<circle cx="279.70" cy="104.10" r="1.95" fill="#1e1e1e" stroke="#888" stroke-width="0.35" stroke-opacity="0.7"/>
<circle cx="271.00" cy="108.50" r="1.95" fill="#1e1e1e" stroke="#888" stroke-width="0.35" stroke-opacity="0.7"/>
<circle cx="285.50" cy="107.50" r="1.95" fill="#1e1e1e" stroke="#888" stroke-width="0.35" stroke-opacity="0.7"/>
<circle cx="293.10" cy="106.00" r="1.95" fill="#1e1e1e" stroke="#888" stroke-width="0.35" stroke-opacity="0.7"/>
<circle cx="294.40" cy="107.80" r="1.95" fill="#1e1e1e" stroke="#888" stroke-width="0.35" stroke-opacity="0.7"/>
<circle cx="295.70" cy="109.60" r="1.95" fill="#1e1e1e" stroke="#888" stroke-width="0.35" stroke-opacity="0.7"/>
<circle cx="296.60" cy="111.30" r="1.95" fill="#1e1e1e" stroke="#888" stroke-width="0.35" stroke-opacity="0.7"/>
<circle cx="297.10" cy="113.50" r="1.95" fill="#1e1e1e" stroke="#888" stroke-width="0.35" stroke-opacity="0.7"/>
<circle cx="281.60" cy="111.30" r="1.95" fill="#1e1e1e" stroke="#888" stroke-width="0.35" stroke-opacity="0.7"/>
<circle cx="288.40" cy="111.30" r="1.95" fill="#1e1e1e" stroke="#888" stroke-width="0.35" stroke-opacity="0.7"/>
<circle cx="288.70" cy="115.20" r="1.95" fill="#1e1e1e" stroke="#888" stroke-width="0.35" stroke-opacity="0.7"/>
<circle cx="283.00" cy="118.30" r="1.95" fill="#1e1e1e" stroke="#888" stroke-width="0.35" stroke-opacity="0.7"/>
<circle cx="291.30" cy="119.20" r="1.95" fill="#1e1e1e" stroke="#888" stroke-width="0.35" stroke-opacity="0.7"/>
<circle cx="290.90" cy="118.80" r="1.95" fill="#1e1e1e" stroke="#888" stroke-width="0.35" stroke-opacity="0.7"/>
<circle cx="295.30" cy="121.50" r="1.95" fill="#1e1e1e" stroke="#888" stroke-width="0.35" stroke-opacity="0.7"/>
<circle cx="296.60" cy="123.20" r="1.95" fill="#1e1e1e" stroke="#888" stroke-width="0.35" stroke-opacity="0.7"/>
<circle cx="294.90" cy="125.00" r="1.95" fill="#1e1e1e" stroke="#888" stroke-width="0.35" stroke-opacity="0.7"/>
<circle cx="296.20" cy="126.80" r="1.95" fill="#1e1e1e" stroke="#888" stroke-width="0.35" stroke-opacity="0.7"/>
<circle cx="296.60" cy="128.50" r="1.95" fill="#1e1e1e" stroke="#888" stroke-width="0.35" stroke-opacity="0.7"/>
<circle cx="277.30" cy="125.00" r="1.95" fill="#1e1e1e" stroke="#888" stroke-width="0.35" stroke-opacity="0.7"/>
<circle cx="282.10" cy="126.90" r="1.95" fill="#1e1e1e" stroke="#888" stroke-width="0.35" stroke-opacity="0.7"/>
<circle cx="284.50" cy="125.00" r="1.95" fill="#1e1e1e" stroke="#888" stroke-width="0.35" stroke-opacity="0.7"/>
<circle cx="296.20" cy="136.50" r="1.95" fill="#1e1e1e" stroke="#888" stroke-width="0.35" stroke-opacity="0.7"/>
<circle cx="297.10" cy="137.80" r="1.95" fill="#1e1e1e" stroke="#888" stroke-width="0.35" stroke-opacity="0.7"/>
<circle cx="291.80" cy="138.20" r="1.95" fill="#1e1e1e" stroke="#888" stroke-width="0.35" stroke-opacity="0.7"/>
<circle cx="288.40" cy="139.10" r="1.95" fill="#1e1e1e" stroke="#888" stroke-width="0.35" stroke-opacity="0.7"/>
<circle cx="292.50" cy="138.20" r="1.95" fill="#1e1e1e" stroke="#888" stroke-width="0.35" stroke-opacity="0.7"/>
<circle cx="286.00" cy="142.50" r="1.95" fill="#1e1e1e" stroke="#888" stroke-width="0.35" stroke-opacity="0.7"/>
<circle cx="297.10" cy="143.10" r="1.95" fill="#1e1e1e" stroke="#888" stroke-width="0.35" stroke-opacity="0.7"/>
<circle cx="294.00" cy="148.00" r="1.95" fill="#1e1e1e" stroke="#888" stroke-width="0.35" stroke-opacity="0.7"/>
<circle cx="297.90" cy="150.20" r="1.95" fill="#1e1e1e" stroke="#888" stroke-width="0.35" stroke-opacity="0.7"/>
<circle cx="285.50" cy="152.60" r="1.95" fill="#1e1e1e" stroke="#888" stroke-width="0.35" stroke-opacity="0.7"/>
<circle cx="291.70" cy="153.00" r="1.95" fill="#1e1e1e" stroke="#888" stroke-width="0.35" stroke-opacity="0.7"/>
<circle cx="293.50" cy="153.30" r="1.95" fill="#1e1e1e" stroke="#888" stroke-width="0.35" stroke-opacity="0.7"/>
<circle cx="295.10" cy="154.50" r="1.95" fill="#1e1e1e" stroke="#888" stroke-width="0.35" stroke-opacity="0.7"/>
<circle cx="376.80" cy="54.90" r="1.95" fill="#1e1e1e" stroke="#888" stroke-width="0.35" stroke-opacity="0.7"/>
<circle cx="381.10" cy="54.90" r="1.95" fill="#1e1e1e" stroke="#888" stroke-width="0.35" stroke-opacity="0.7"/>
<circle cx="363.10" cy="73.10" r="1.95" fill="#1e1e1e" stroke="#888" stroke-width="0.35" stroke-opacity="0.7"/>
<circle cx="364.90" cy="73.10" r="1.95" fill="#1e1e1e" stroke="#888" stroke-width="0.35" stroke-opacity="0.7"/>
<circle cx="358.20" cy="84.30" r="1.95" fill="#1e1e1e" stroke="#888" stroke-width="0.35" stroke-opacity="0.7"/>
<circle cx="360.80" cy="88.90" r="1.95" fill="#1e1e1e" stroke="#888" stroke-width="0.35" stroke-opacity="0.7"/>
<circle cx="363.10" cy="87.70" r="1.95" fill="#1e1e1e" stroke="#888" stroke-width="0.35" stroke-opacity="0.7"/>
<circle cx="372.80" cy="86.90" r="1.95" fill="#1e1e1e" stroke="#888" stroke-width="0.35" stroke-opacity="0.7"/>
<circle cx="350.50" cy="100.00" r="1.95" fill="#1e1e1e" stroke="#888" stroke-width="0.35" stroke-opacity="0.7"/>
<circle cx="346.90" cy="106.20" r="1.95" fill="#1e1e1e" stroke="#888" stroke-width="0.35" stroke-opacity="0.7"/>
<circle cx="360.30" cy="108.90" r="1.95" fill="#1e1e1e" stroke="#888" stroke-width="0.35" stroke-opacity="0.7"/>
<text x="167.75" y="50.3" font-size="11" text-anchor="start" fill="#000" textLength="34.74" lengthAdjust="spacingAndGlyphs">126-3p</text>
<text x="253.0" y="60" font-size="11" text-anchor="start" fill="#000" textLength="12.03" lengthAdjust="spacingAndGlyphs">25</text>
<text x="283.8" y="57" font-size="11" text-anchor="start" fill="#000" textLength="24.20" lengthAdjust="spacingAndGlyphs">106b</text>
<text x="256.8" y="81" font-size="11" text-anchor="start" fill="#000" textLength="12.43" lengthAdjust="spacingAndGlyphs">98</text>
<text x="245.6" y="94.6" font-size="11" text-anchor="start" fill="#000" textLength="24.20" lengthAdjust="spacingAndGlyphs">181b</text>
<text x="249.0" y="113.7" font-size="11" text-anchor="start" fill="#000" textLength="17.88" lengthAdjust="spacingAndGlyphs">127</text>
<text x="359.3" y="44.5" font-size="11" text-anchor="start" fill="#000" textLength="23.84" lengthAdjust="spacingAndGlyphs">146a</text>
<text x="338.7" y="53.9" font-size="11" text-anchor="start" fill="#000" textLength="11.52" lengthAdjust="spacingAndGlyphs">21</text>
<text x="310.1" y="74.8" font-size="11" text-anchor="start" fill="#000" textLength="34.29" lengthAdjust="spacingAndGlyphs">129-5p</text>
<text x="375.4" y="103.8" font-size="11" text-anchor="start" fill="#000" textLength="18.38" lengthAdjust="spacingAndGlyphs">763</text>
<text x="311.8" y="123.3" font-size="11" text-anchor="start" fill="#000" textLength="35.59" lengthAdjust="spacingAndGlyphs">291-5p</text>
<text x="353.4" y="131.4" font-size="11" text-anchor="start" fill="#000" textLength="18.28" lengthAdjust="spacingAndGlyphs">34a</text>
<text x="377.1" y="121.7" font-size="11" text-anchor="start" fill="#000" textLength="12.13" lengthAdjust="spacingAndGlyphs">22</text>
<text x="359.6" y="157.8" font-size="11" text-anchor="start" fill="#000" textLength="18.18" lengthAdjust="spacingAndGlyphs">29a</text>
<line x1="201.2" y1="54.2" x2="213.5" y2="63.8" stroke="#333" stroke-width="0.9"/>
<line x1="263.5" y1="61.3" x2="280.4" y2="81.5" stroke="#333" stroke-width="0.9"/>
<line x1="291.8" y1="60" x2="287.8" y2="82.2" stroke="#333" stroke-width="0.9"/>
<line x1="366.6" y1="47.2" x2="364.7" y2="71.4" stroke="#333" stroke-width="0.9"/>
<line x1="345.5" y1="55.7" x2="363" y2="72.1" stroke="#333" stroke-width="0.9"/>
<line x1="344.6" y1="76.6" x2="356.2" y2="83" stroke="#333" stroke-width="0.9"/>
<line x1="363.8" y1="92.3" x2="373.8" y2="99.7" stroke="#333" stroke-width="0.9"/>
<line x1="335.4" y1="113" x2="344.6" y2="104.6" stroke="#333" stroke-width="0.9"/>
<line x1="348.5" y1="109.2" x2="356.2" y2="123.8" stroke="#333" stroke-width="0.9"/>
<line x1="363.1" y1="110" x2="375.4" y2="115.4" stroke="#333" stroke-width="0.9"/>
<line x1="341.4" y1="152.8" x2="358.3" y2="154.4" stroke="#333" stroke-width="0.9"/>
<text x="3.2" y="285.0" font-size="17.4" text-anchor="start" fill="#000" font-weight="bold" textLength="10.63" lengthAdjust="spacingAndGlyphs">B</text>
<text x="13.5" y="325.1" font-size="11" text-anchor="start" fill="#000" textLength="230.74" lengthAdjust="spacingAndGlyphs">miRs down regulated during megakaryopoiesis</text>
<line x1="55.8" y1="352.5" x2="55.8" y2="443.8" stroke="#a5a5a5" stroke-width="1"/>
<line x1="55.8" y1="443.8" x2="226.3" y2="443.8" stroke="#a5a5a5" stroke-width="1"/>
<line x1="53.0" y1="443.8" x2="55.8" y2="443.8" stroke="#a5a5a5" stroke-width="1"/>
<text x="43.89" y="446.9" font-size="7.82" text-anchor="start" fill="#222" textLength="5.12" lengthAdjust="spacingAndGlyphs">0</text>
<line x1="53.0" y1="434.6" x2="55.8" y2="434.6" stroke="#a5a5a5" stroke-width="1"/>
<text x="36.2" y="437.7" font-size="7.82" text-anchor="start" fill="#222" textLength="12.80" lengthAdjust="spacingAndGlyphs">0.2</text>
<line x1="53.0" y1="425.40000000000003" x2="55.8" y2="425.40000000000003" stroke="#a5a5a5" stroke-width="1"/>
<text x="36.2" y="428.5" font-size="7.82" text-anchor="start" fill="#222" textLength="12.80" lengthAdjust="spacingAndGlyphs">0.4</text>
<line x1="53.0" y1="416.2" x2="55.8" y2="416.2" stroke="#a5a5a5" stroke-width="1"/>
<text x="36.2" y="419.3" font-size="7.82" text-anchor="start" fill="#222" textLength="12.80" lengthAdjust="spacingAndGlyphs">0.6</text>
<line x1="53.0" y1="407.0" x2="55.8" y2="407.0" stroke="#a5a5a5" stroke-width="1"/>
<text x="36.2" y="410.1" font-size="7.82" text-anchor="start" fill="#222" textLength="12.80" lengthAdjust="spacingAndGlyphs">0.8</text>
<line x1="53.0" y1="397.8" x2="55.8" y2="397.8" stroke="#a5a5a5" stroke-width="1"/>
<text x="43.89" y="400.9" font-size="7.82" text-anchor="start" fill="#222" textLength="5.12" lengthAdjust="spacingAndGlyphs">1</text>
<line x1="53.0" y1="388.6" x2="55.8" y2="388.6" stroke="#a5a5a5" stroke-width="1"/>
<text x="36.2" y="391.7" font-size="7.82" text-anchor="start" fill="#222" textLength="12.80" lengthAdjust="spacingAndGlyphs">1.2</text>
<line x1="53.0" y1="379.4" x2="55.8" y2="379.4" stroke="#a5a5a5" stroke-width="1"/>
<text x="36.2" y="382.5" font-size="7.82" text-anchor="start" fill="#222" textLength="12.80" lengthAdjust="spacingAndGlyphs">1.4</text>
<line x1="53.0" y1="370.2" x2="55.8" y2="370.2" stroke="#a5a5a5" stroke-width="1"/>
<text x="36.2" y="373.3" font-size="7.82" text-anchor="start" fill="#222" textLength="12.80" lengthAdjust="spacingAndGlyphs">1.6</text>
<line x1="53.0" y1="361.0" x2="55.8" y2="361.0" stroke="#a5a5a5" stroke-width="1"/>
<text x="36.2" y="364.1" font-size="7.82" text-anchor="start" fill="#222" textLength="12.80" lengthAdjust="spacingAndGlyphs">1.8</text>
<line x1="53.0" y1="351.8" x2="55.8" y2="351.8" stroke="#a5a5a5" stroke-width="1"/>
<text x="43.89" y="354.9" font-size="7.82" text-anchor="start" fill="#222" textLength="5.12" lengthAdjust="spacingAndGlyphs">2</text>
<line x1="55.8" y1="443.8" x2="55.8" y2="446.3" stroke="#a5a5a5" stroke-width="1"/>
<line x1="84.22" y1="443.8" x2="84.22" y2="446.3" stroke="#a5a5a5" stroke-width="1"/>
<line x1="112.64" y1="443.8" x2="112.64" y2="446.3" stroke="#a5a5a5" stroke-width="1"/>
<line x1="141.06" y1="443.8" x2="141.06" y2="446.3" stroke="#a5a5a5" stroke-width="1"/>
<line x1="169.48000000000002" y1="443.8" x2="169.48000000000002" y2="446.3" stroke="#a5a5a5" stroke-width="1"/>
<line x1="197.90000000000003" y1="443.8" x2="197.90000000000003" y2="446.3" stroke="#a5a5a5" stroke-width="1"/>
<line x1="226.32" y1="443.8" x2="226.32" y2="446.3" stroke="#a5a5a5" stroke-width="1"/>
<text x="22.2" y="443.3" font-size="11" text-anchor="start" fill="#000" transform="rotate(-90 22.2 443.3)" textLength="95.52" lengthAdjust="spacingAndGlyphs">Relative expression</text>
<rect x="60.00" y="397.80" width="6.35" height="46.00" fill="#c0c0c0"/>
<rect x="66.35" y="424.66" width="6.35" height="19.14" fill="#777777"/>
<rect x="72.70" y="419.88" width="6.35" height="23.92" fill="#000000"/>
<line x1="69.525" y1="425.584" x2="69.525" y2="423.744" stroke="#000" stroke-width="0.8"/>
<line x1="67.525" y1="423.744" x2="71.525" y2="423.744" stroke="#000" stroke-width="0.8"/>
<line x1="75.875" y1="425.4" x2="75.875" y2="414.36" stroke="#000" stroke-width="0.8"/>
<line x1="73.875" y1="414.36" x2="77.875" y2="414.36" stroke="#000" stroke-width="0.8"/>
<text x="64.6" y="456.8" font-size="10.8" text-anchor="start" fill="#000" textLength="11.22" lengthAdjust="spacingAndGlyphs">93</text>
<rect x="88.60" y="397.80" width="6.35" height="46.00" fill="#c0c0c0"/>
<rect x="94.95" y="428.16" width="6.35" height="15.64" fill="#777777"/>
<rect x="101.30" y="401.94" width="6.35" height="41.86" fill="#000000"/>
<line x1="98.125" y1="431.84000000000003" x2="98.125" y2="424.48" stroke="#000" stroke-width="0.8"/>
<line x1="96.125" y1="424.48" x2="100.125" y2="424.48" stroke="#000" stroke-width="0.8"/>
<line x1="104.475" y1="410.21999999999997" x2="104.475" y2="393.66" stroke="#000" stroke-width="0.8"/>
<line x1="102.475" y1="393.66" x2="106.475" y2="393.66" stroke="#000" stroke-width="0.8"/>
<text x="88.2" y="456.8" font-size="10.8" text-anchor="start" fill="#000" textLength="11.02" lengthAdjust="spacingAndGlyphs">25</text>
<rect x="117.20" y="397.80" width="6.35" height="46.00" fill="#c0c0c0"/>
<rect x="123.55" y="424.48" width="6.35" height="19.32" fill="#777777"/>
<rect x="129.90" y="416.20" width="6.35" height="27.60" fill="#000000"/>
<line x1="126.725" y1="428.62" x2="126.725" y2="420.34000000000003" stroke="#000" stroke-width="0.8"/>
<line x1="124.725" y1="420.34000000000003" x2="128.725" y2="420.34000000000003" stroke="#000" stroke-width="0.8"/>
<line x1="133.075" y1="419.88" x2="133.075" y2="412.52000000000004" stroke="#000" stroke-width="0.8"/>
<line x1="131.075" y1="412.52000000000004" x2="135.075" y2="412.52000000000004" stroke="#000" stroke-width="0.8"/>
<text x="115.4" y="456.8" font-size="10.8" text-anchor="start" fill="#000" textLength="22.30" lengthAdjust="spacingAndGlyphs">106b</text>
<rect x="145.80" y="397.80" width="6.35" height="46.00" fill="#c0c0c0"/>
<rect x="152.15" y="442.42" width="6.35" height="1.38" fill="#777777"/>
<rect x="158.50" y="441.96" width="6.35" height="1.84" fill="#000000"/>
<line x1="155.32500000000002" y1="443.8" x2="155.32500000000002" y2="441.04" stroke="#000" stroke-width="0.8"/>
<line x1="153.32500000000002" y1="441.04" x2="157.32500000000002" y2="441.04" stroke="#000" stroke-width="0.8"/>
<line x1="161.675" y1="442.88000000000005" x2="161.675" y2="441.04" stroke="#000" stroke-width="0.8"/>
<line x1="159.675" y1="441.04" x2="163.675" y2="441.04" stroke="#000" stroke-width="0.8"/>
<text x="144.3" y="456.8" font-size="10.8" text-anchor="start" fill="#000" textLength="16.98" lengthAdjust="spacingAndGlyphs">126</text>
<rect x="174.40" y="397.80" width="6.35" height="46.00" fill="#c0c0c0"/>
<rect x="180.75" y="436.44" width="6.35" height="7.36" fill="#777777"/>
<rect x="187.10" y="370.66" width="6.35" height="73.14" fill="#000000"/>
<line x1="183.925" y1="445.64" x2="183.925" y2="427.24" stroke="#000" stroke-width="0.8"/>
<line x1="181.925" y1="427.24" x2="185.925" y2="427.24" stroke="#000" stroke-width="0.8"/>
<line x1="190.275" y1="376.18" x2="190.275" y2="365.14" stroke="#000" stroke-width="0.8"/>
<line x1="188.275" y1="365.14" x2="192.275" y2="365.14" stroke="#000" stroke-width="0.8"/>
<text x="177.9" y="456.8" font-size="10.8" text-anchor="start" fill="#000" textLength="17.28" lengthAdjust="spacingAndGlyphs">127</text>
<rect x="203.00" y="397.80" width="6.35" height="46.00" fill="#c0c0c0"/>
<rect x="209.35" y="425.40" width="6.35" height="18.40" fill="#777777"/>
<rect x="215.70" y="435.06" width="6.35" height="8.74" fill="#000000"/>
<line x1="212.525" y1="427.24" x2="212.525" y2="423.56" stroke="#000" stroke-width="0.8"/>
<line x1="210.525" y1="423.56" x2="214.525" y2="423.56" stroke="#000" stroke-width="0.8"/>
<line x1="218.875" y1="437.36" x2="218.875" y2="432.76" stroke="#000" stroke-width="0.8"/>
<line x1="216.875" y1="432.76" x2="220.875" y2="432.76" stroke="#000" stroke-width="0.8"/>
<text x="203.8" y="456.8" font-size="10.8" text-anchor="start" fill="#000" textLength="23.20" lengthAdjust="spacingAndGlyphs">181b</text>
<rect x="112.00" y="355.20" width="6.30" height="5.80" fill="#c0c0c0"/>
<text x="120.6" y="361.5" font-size="8.8" text-anchor="start" fill="#222" textLength="30.61" lengthAdjust="spacingAndGlyphs">Ter119-</text>
<rect x="112.00" y="366.20" width="6.30" height="5.80" fill="#777777"/>
<text x="120.6" y="372.5" font-size="8.8" text-anchor="start" fill="#222" textLength="15.60" lengthAdjust="spacingAndGlyphs">Meg</text>
<rect x="112.00" y="377.10" width="6.30" height="5.80" fill="#000000"/>
<text x="120.6" y="382.9" font-size="8.8" text-anchor="start" fill="#000" textLength="13.20" lengthAdjust="spacingAndGlyphs">Ery</text>
<text x="252.0" y="285.2" font-size="17.4" text-anchor="start" fill="#000" font-weight="bold" textLength="11.33" lengthAdjust="spacingAndGlyphs">C</text>
<text x="282.3" y="325.8" font-size="11" text-anchor="start" fill="#000" textLength="216.91" lengthAdjust="spacingAndGlyphs">miRs up regulated during megakaryopoiesis</text>
<line x1="302.6" y1="345.4" x2="302.6" y2="451.5" stroke="#a5a5a5" stroke-width="1"/>
<line x1="302.6" y1="451.5" x2="504" y2="451.5" stroke="#a5a5a5" stroke-width="1"/>
<line x1="299.5" y1="451.5" x2="302.6" y2="451.5" stroke="#a5a5a5" stroke-width="1"/>
<text x="289.25" y="454.75" font-size="8.52" text-anchor="start" fill="#222" textLength="5.56" lengthAdjust="spacingAndGlyphs">0</text>
<line x1="299.5" y1="433.81666666666666" x2="302.6" y2="433.81666666666666" stroke="#a5a5a5" stroke-width="1"/>
<text x="283.7" y="437.07" font-size="8.52" text-anchor="start" fill="#222" textLength="11.12" lengthAdjust="spacingAndGlyphs">10</text>
<line x1="299.5" y1="416.1333333333333" x2="302.6" y2="416.1333333333333" stroke="#a5a5a5" stroke-width="1"/>
<text x="283.7" y="419.38" font-size="8.52" text-anchor="start" fill="#222" textLength="11.12" lengthAdjust="spacingAndGlyphs">20</text>
<line x1="299.5" y1="398.45" x2="302.6" y2="398.45" stroke="#a5a5a5" stroke-width="1"/>
<text x="283.7" y="401.7" font-size="8.52" text-anchor="start" fill="#222" textLength="11.12" lengthAdjust="spacingAndGlyphs">30</text>
<line x1="299.5" y1="380.76666666666665" x2="302.6" y2="380.76666666666665" stroke="#a5a5a5" stroke-width="1"/>
<text x="283.7" y="384.02" font-size="8.52" text-anchor="start" fill="#222" textLength="11.12" lengthAdjust="spacingAndGlyphs">40</text>
<line x1="299.5" y1="363.0833333333333" x2="302.6" y2="363.0833333333333" stroke="#a5a5a5" stroke-width="1"/>
<text x="283.7" y="366.33" font-size="8.52" text-anchor="start" fill="#222" textLength="11.12" lengthAdjust="spacingAndGlyphs">50</text>
<line x1="299.5" y1="345.4" x2="302.6" y2="345.4" stroke="#a5a5a5" stroke-width="1"/>
<text x="283.7" y="348.65" font-size="8.52" text-anchor="start" fill="#222" textLength="11.12" lengthAdjust="spacingAndGlyphs">60</text>
<line x1="302.6" y1="451.5" x2="302.6" y2="454.0" stroke="#a5a5a5" stroke-width="1"/>
<line x1="327.72" y1="451.5" x2="327.72" y2="454.0" stroke="#a5a5a5" stroke-width="1"/>
<line x1="352.84000000000003" y1="451.5" x2="352.84000000000003" y2="454.0" stroke="#a5a5a5" stroke-width="1"/>
<line x1="377.96000000000004" y1="451.5" x2="377.96000000000004" y2="454.0" stroke="#a5a5a5" stroke-width="1"/>
<line x1="403.08000000000004" y1="451.5" x2="403.08000000000004" y2="454.0" stroke="#a5a5a5" stroke-width="1"/>
<line x1="428.20000000000005" y1="451.5" x2="428.20000000000005" y2="454.0" stroke="#a5a5a5" stroke-width="1"/>
<line x1="453.32000000000005" y1="451.5" x2="453.32000000000005" y2="454.0" stroke="#a5a5a5" stroke-width="1"/>
<line x1="478.44000000000005" y1="451.5" x2="478.44000000000005" y2="454.0" stroke="#a5a5a5" stroke-width="1"/>
<line x1="503.56000000000006" y1="451.5" x2="503.56000000000006" y2="454.0" stroke="#a5a5a5" stroke-width="1"/>
<text x="272.1" y="447.5" font-size="11" text-anchor="start" fill="#000" transform="rotate(-90 272.1 447.5)" textLength="95.82" lengthAdjust="spacingAndGlyphs">Relative expression</text>
<rect x="306.70" y="450.62" width="5.60" height="0.88" fill="#c0c0c0"/>
<rect x="312.30" y="376.52" width="5.60" height="74.98" fill="#777777"/>
<rect x="317.90" y="393.32" width="5.60" height="58.18" fill="#000000"/>
<line x1="315.1" y1="386.24850000000004" x2="315.1" y2="366.7968333333333" stroke="#000" stroke-width="0.8"/>
<line x1="313.1" y1="366.7968333333333" x2="317.1" y2="366.7968333333333" stroke="#000" stroke-width="0.8"/>
<line x1="320.7" y1="408.52950000000004" x2="320.7" y2="378.1141666666667" stroke="#000" stroke-width="0.8"/>
<line x1="318.7" y1="378.1141666666667" x2="322.7" y2="378.1141666666667" stroke="#000" stroke-width="0.8"/>
<text x="300.3" y="463.7" font-size="10.7" text-anchor="start" fill="#000" textLength="32.79" lengthAdjust="spacingAndGlyphs">129-5p</text>
<rect x="331.82" y="450.62" width="5.60" height="0.88" fill="#c0c0c0"/>
<rect x="337.42" y="447.26" width="5.60" height="4.24" fill="#777777"/>
<rect x="343.02" y="448.85" width="5.60" height="2.65" fill="#000000"/>
<line x1="340.22" y1="447.7865" x2="340.22" y2="446.7255" stroke="#000" stroke-width="0.8"/>
<line x1="338.22" y1="446.7255" x2="342.22" y2="446.7255" stroke="#000" stroke-width="0.8"/>
<line x1="345.82" y1="449.20116666666667" x2="345.82" y2="448.4938333333333" stroke="#000" stroke-width="0.8"/>
<line x1="343.82" y1="448.4938333333333" x2="347.82" y2="448.4938333333333" stroke="#000" stroke-width="0.8"/>
<text x="336.3" y="463.7" font-size="10.7" text-anchor="start" fill="#000" textLength="17.88" lengthAdjust="spacingAndGlyphs">29a</text>
<rect x="356.94" y="450.62" width="5.60" height="0.88" fill="#c0c0c0"/>
<rect x="362.54" y="412.24" width="5.60" height="39.26" fill="#777777"/>
<rect x="368.14" y="372.28" width="5.60" height="79.22" fill="#000000"/>
<line x1="365.34000000000003" y1="412.7735" x2="365.34000000000003" y2="411.7125" stroke="#000" stroke-width="0.8"/>
<line x1="363.34000000000003" y1="411.7125" x2="367.34000000000003" y2="411.7125" stroke="#000" stroke-width="0.8"/>
<line x1="370.94" y1="372.986" x2="370.94" y2="371.5713333333333" stroke="#000" stroke-width="0.8"/>
<line x1="368.94" y1="371.5713333333333" x2="372.94" y2="371.5713333333333" stroke="#000" stroke-width="0.8"/>
<text x="361.0" y="463.7" font-size="10.7" text-anchor="start" fill="#000" textLength="12.33" lengthAdjust="spacingAndGlyphs">22</text>
<rect x="382.06" y="450.62" width="5.60" height="0.88" fill="#c0c0c0"/>
<rect x="387.66" y="435.05" width="5.60" height="16.45" fill="#777777"/>
<rect x="393.26" y="442.13" width="5.60" height="9.37" fill="#000000"/>
<line x1="390.46000000000004" y1="435.58500000000004" x2="390.46000000000004" y2="434.524" stroke="#000" stroke-width="0.8"/>
<line x1="388.46000000000004" y1="434.524" x2="392.46000000000004" y2="434.524" stroke="#000" stroke-width="0.8"/>
<line x1="396.06" y1="442.65833333333336" x2="396.06" y2="441.5973333333333" stroke="#000" stroke-width="0.8"/>
<line x1="394.06" y1="441.5973333333333" x2="398.06" y2="441.5973333333333" stroke="#000" stroke-width="0.8"/>
<text x="383.4" y="463.7" font-size="10.7" text-anchor="start" fill="#000" textLength="17.38" lengthAdjust="spacingAndGlyphs">34a</text>
<rect x="407.18" y="450.62" width="5.60" height="0.88" fill="#c0c0c0"/>
<rect x="412.78" y="445.84" width="5.60" height="5.66" fill="#777777"/>
<rect x="418.38" y="444.78" width="5.60" height="6.72" fill="#000000"/>
<line x1="415.58000000000004" y1="446.37183333333337" x2="415.58000000000004" y2="445.31083333333333" stroke="#000" stroke-width="0.8"/>
<line x1="413.58000000000004" y1="445.31083333333333" x2="417.58000000000004" y2="445.31083333333333" stroke="#000" stroke-width="0.8"/>
<line x1="421.18" y1="445.31083333333333" x2="421.18" y2="444.24983333333336" stroke="#000" stroke-width="0.8"/>
<line x1="419.18" y1="444.24983333333336" x2="423.18" y2="444.24983333333336" stroke="#000" stroke-width="0.8"/>
<text x="408.1" y="463.7" font-size="10.7" text-anchor="start" fill="#000" textLength="17.68" lengthAdjust="spacingAndGlyphs">763</text>
<rect x="432.30" y="450.62" width="5.60" height="0.88" fill="#c0c0c0"/>
<rect x="437.90" y="415.60" width="5.60" height="35.90" fill="#777777"/>
<rect x="443.50" y="446.73" width="5.60" height="4.77" fill="#000000"/>
<line x1="440.70000000000005" y1="417.7248333333333" x2="440.70000000000005" y2="413.48083333333335" stroke="#000" stroke-width="0.8"/>
<line x1="438.70000000000005" y1="413.48083333333335" x2="442.70000000000005" y2="413.48083333333335" stroke="#000" stroke-width="0.8"/>
<line x1="446.3" y1="447.07916666666665" x2="446.3" y2="446.3718333333333" stroke="#000" stroke-width="0.8"/>
<line x1="444.3" y1="446.3718333333333" x2="448.3" y2="446.3718333333333" stroke="#000" stroke-width="0.8"/>
<text x="433.5" y="463.7" font-size="10.7" text-anchor="start" fill="#000" textLength="22.95" lengthAdjust="spacingAndGlyphs">146a</text>
<rect x="457.42" y="450.62" width="5.60" height="0.88" fill="#c0c0c0"/>
<rect x="463.02" y="441.24" width="5.60" height="10.26" fill="#777777"/>
<rect x="468.62" y="447.61" width="5.60" height="3.89" fill="#000000"/>
<line x1="465.82" y1="441.7741666666667" x2="465.82" y2="440.71316666666667" stroke="#000" stroke-width="0.8"/>
<line x1="463.82" y1="440.71316666666667" x2="467.82" y2="440.71316666666667" stroke="#000" stroke-width="0.8"/>
<line x1="471.41999999999996" y1="447.9633333333333" x2="471.41999999999996" y2="447.256" stroke="#000" stroke-width="0.8"/>
<line x1="469.41999999999996" y1="447.256" x2="473.41999999999996" y2="447.256" stroke="#000" stroke-width="0.8"/>
<text x="464.2" y="463.7" font-size="10.7" text-anchor="start" fill="#000" textLength="9.62" lengthAdjust="spacingAndGlyphs">21</text>
<rect x="482.54" y="450.62" width="5.60" height="0.88" fill="#c0c0c0"/>
<rect x="488.14" y="431.87" width="5.60" height="19.63" fill="#777777"/>
<rect x="493.74" y="435.58" width="5.60" height="15.91" fill="#000000"/>
<line x1="490.94" y1="432.7556666666667" x2="490.94" y2="430.9873333333333" stroke="#000" stroke-width="0.8"/>
<line x1="488.94" y1="430.9873333333333" x2="492.94" y2="430.9873333333333" stroke="#000" stroke-width="0.8"/>
<line x1="496.53999999999996" y1="436.1155" x2="496.53999999999996" y2="435.0545" stroke="#000" stroke-width="0.8"/>
<line x1="494.53999999999996" y1="435.0545" x2="498.53999999999996" y2="435.0545" stroke="#000" stroke-width="0.8"/>
<text x="481.9" y="463.7" font-size="10.7" text-anchor="start" fill="#000" textLength="31.19" lengthAdjust="spacingAndGlyphs">291-5p</text>
<rect x="401.30" y="355.20" width="6.30" height="5.80" fill="#c0c0c0"/>
<text x="410.6" y="361.5" font-size="8.8" text-anchor="start" fill="#222" textLength="30.61" lengthAdjust="spacingAndGlyphs">Ter119-</text>
<rect x="401.30" y="366.20" width="6.30" height="5.80" fill="#777777"/>
<text x="410.6" y="372.5" font-size="8.8" text-anchor="start" fill="#222" textLength="15.60" lengthAdjust="spacingAndGlyphs">Meg</text>
<rect x="401.30" y="377.10" width="6.30" height="5.80" fill="#000000"/>
<text x="410.6" y="382.9" font-size="8.8" text-anchor="start" fill="#000" textLength="13.20" lengthAdjust="spacingAndGlyphs">Ery</text>
<text x="6.1" y="495.7" font-size="17.5" text-anchor="start" fill="#000" font-weight="bold" textLength="10.93" lengthAdjust="spacingAndGlyphs">D</text>
<text x="85.0" y="523.8" font-size="11" text-anchor="start" fill="#000" textLength="104.24" lengthAdjust="spacingAndGlyphs">miR 146a expression</text>
<text x="85.0" y="537.0" font-size="11" text-anchor="start" fill="#000" textLength="106.26" lengthAdjust="spacingAndGlyphs">in hematopoietic cells</text>
<line x1="62" y1="549.5" x2="62" y2="629.5" stroke="#a5a5a5" stroke-width="1"/>
<line x1="62" y1="629.5" x2="219.5" y2="629.5" stroke="#a5a5a5" stroke-width="1"/>
<line x1="59.5" y1="629.5" x2="62" y2="629.5" stroke="#a5a5a5" stroke-width="1"/>
<text x="53.15" y="632.65" font-size="8.8" text-anchor="start" fill="#222" textLength="3.66" lengthAdjust="spacingAndGlyphs">0</text>
<line x1="59.5" y1="613.5" x2="62" y2="613.5" stroke="#a5a5a5" stroke-width="1"/>
<text x="53.15" y="616.65" font-size="8.8" text-anchor="start" fill="#222" textLength="3.66" lengthAdjust="spacingAndGlyphs">5</text>
<line x1="59.5" y1="597.5" x2="62" y2="597.5" stroke="#a5a5a5" stroke-width="1"/>
<text x="49.5" y="600.65" font-size="8.8" text-anchor="start" fill="#222" textLength="7.32" lengthAdjust="spacingAndGlyphs">10</text>
<line x1="59.5" y1="581.5" x2="62" y2="581.5" stroke="#a5a5a5" stroke-width="1"/>
<text x="49.5" y="584.65" font-size="8.8" text-anchor="start" fill="#222" textLength="7.32" lengthAdjust="spacingAndGlyphs">15</text>
<line x1="59.5" y1="565.5" x2="62" y2="565.5" stroke="#a5a5a5" stroke-width="1"/>
<text x="49.5" y="568.65" font-size="8.8" text-anchor="start" fill="#222" textLength="7.32" lengthAdjust="spacingAndGlyphs">20</text>
<line x1="59.5" y1="549.5" x2="62" y2="549.5" stroke="#a5a5a5" stroke-width="1"/>
<text x="49.5" y="552.65" font-size="8.8" text-anchor="start" fill="#222" textLength="7.32" lengthAdjust="spacingAndGlyphs">25</text>
<line x1="62.0" y1="629.5" x2="62.0" y2="632.0" stroke="#a5a5a5" stroke-width="1"/>
<line x1="88.25" y1="629.5" x2="88.25" y2="632.0" stroke="#a5a5a5" stroke-width="1"/>
<line x1="114.5" y1="629.5" x2="114.5" y2="632.0" stroke="#a5a5a5" stroke-width="1"/>
<line x1="140.75" y1="629.5" x2="140.75" y2="632.0" stroke="#a5a5a5" stroke-width="1"/>
<line x1="167.0" y1="629.5" x2="167.0" y2="632.0" stroke="#a5a5a5" stroke-width="1"/>
<line x1="193.25" y1="629.5" x2="193.25" y2="632.0" stroke="#a5a5a5" stroke-width="1"/>
<line x1="219.5" y1="629.5" x2="219.5" y2="632.0" stroke="#a5a5a5" stroke-width="1"/>
<text x="40.0" y="636.6" font-size="11" text-anchor="start" fill="#000" transform="rotate(-90 40.0 636.6)" textLength="96.02" lengthAdjust="spacingAndGlyphs">Relative expression</text>
<rect x="70.22" y="625.82" width="10.40" height="3.68" fill="#666666"/>
<rect x="96.47" y="564.86" width="10.40" height="64.64" fill="#666666"/>
<line x1="101.675" y1="567.42" x2="101.675" y2="562.3" stroke="#000" stroke-width="0.8"/>
<line x1="99.675" y1="562.3" x2="103.675" y2="562.3" stroke="#000" stroke-width="0.8"/>
<rect x="122.72" y="623.26" width="10.40" height="6.24" fill="#666666"/>
<line x1="127.925" y1="624.22" x2="127.925" y2="622.3" stroke="#000" stroke-width="0.8"/>
<line x1="125.925" y1="622.3" x2="129.925" y2="622.3" stroke="#000" stroke-width="0.8"/>
<rect x="175.23" y="626.30" width="10.40" height="3.20" fill="#666666"/>
<rect x="201.48" y="562.30" width="10.40" height="67.20" fill="#666666"/>
<line x1="206.675" y1="565.18" x2="206.675" y2="559.42" stroke="#000" stroke-width="0.8"/>
<line x1="204.675" y1="559.42" x2="208.675" y2="559.42" stroke="#000" stroke-width="0.8"/>
<text x="67.2" y="643.4" font-size="11" text-anchor="start" fill="#000" textLength="17.27" lengthAdjust="spacingAndGlyphs">Lin-</text>
<text x="91.3" y="643.4" font-size="11" text-anchor="start" fill="#000" textLength="21.00" lengthAdjust="spacingAndGlyphs">Meg</text>
<text x="118.8" y="643.4" font-size="11" text-anchor="start" fill="#000" textLength="16.40" lengthAdjust="spacingAndGlyphs">Ery</text>
<text x="166.2" y="643.4" font-size="11" text-anchor="start" fill="#000" textLength="53.90" lengthAdjust="spacingAndGlyphs">CD34 Meg</text>
<line x1="67.5" y1="651.4" x2="142.5" y2="651.4" stroke="#222" stroke-width="1.0"/>
<line x1="168.7" y1="651.4" x2="218.8" y2="651.4" stroke="#222" stroke-width="1.0"/>
<text x="86.1" y="663.5" font-size="11" text-anchor="start" fill="#000" textLength="32.52" lengthAdjust="spacingAndGlyphs">mouse</text>
<text x="176.0" y="663.5" font-size="11" text-anchor="start" fill="#000" textLength="32.68" lengthAdjust="spacingAndGlyphs">human</text>
<text x="253.2" y="501.9" font-size="17.5" text-anchor="start" fill="#000" font-weight="bold" textLength="9.83" lengthAdjust="spacingAndGlyphs">E</text>
<text x="316.9" y="519.7" font-size="11" text-anchor="start" fill="#000" textLength="188.08" lengthAdjust="spacingAndGlyphs">miR 146a expression dynamics during</text>
<text x="347.5" y="532.5" font-size="11" text-anchor="start" fill="#000" textLength="126.79" lengthAdjust="spacingAndGlyphs">mouse megakaryopoiesis</text>
<line x1="333.4" y1="551.5" x2="333.4" y2="642.9" stroke="#a5a5a5" stroke-width="1"/>
<line x1="333.4" y1="642.9" x2="492.6" y2="642.9" stroke="#a5a5a5" stroke-width="1"/>
<line x1="330.8" y1="642.9" x2="333.4" y2="642.9" stroke="#a5a5a5" stroke-width="1"/>
<text x="322.9" y="646.15" font-size="8.24" text-anchor="start" fill="#222" textLength="3.91" lengthAdjust="spacingAndGlyphs">0</text>
<line x1="330.8" y1="620.05" x2="333.4" y2="620.05" stroke="#a5a5a5" stroke-width="1"/>
<text x="322.9" y="623.3" font-size="8.24" text-anchor="start" fill="#222" textLength="3.91" lengthAdjust="spacingAndGlyphs">5</text>
<line x1="330.8" y1="597.1999999999999" x2="333.4" y2="597.1999999999999" stroke="#a5a5a5" stroke-width="1"/>
<text x="319.0" y="600.45" font-size="8.24" text-anchor="start" fill="#222" textLength="7.82" lengthAdjust="spacingAndGlyphs">10</text>
<line x1="330.8" y1="574.3499999999999" x2="333.4" y2="574.3499999999999" stroke="#a5a5a5" stroke-width="1"/>
<text x="319.0" y="577.6" font-size="8.24" text-anchor="start" fill="#222" textLength="7.82" lengthAdjust="spacingAndGlyphs">15</text>
<line x1="330.8" y1="551.5" x2="333.4" y2="551.5" stroke="#a5a5a5" stroke-width="1"/>
<text x="319.0" y="554.75" font-size="8.24" text-anchor="start" fill="#222" textLength="7.82" lengthAdjust="spacingAndGlyphs">20</text>
<line x1="333.4" y1="642.9" x2="333.4" y2="645.4" stroke="#a5a5a5" stroke-width="1"/>
<line x1="365.23999999999995" y1="642.9" x2="365.23999999999995" y2="645.4" stroke="#a5a5a5" stroke-width="1"/>
<line x1="397.08" y1="642.9" x2="397.08" y2="645.4" stroke="#a5a5a5" stroke-width="1"/>
<line x1="428.91999999999996" y1="642.9" x2="428.91999999999996" y2="645.4" stroke="#a5a5a5" stroke-width="1"/>
<line x1="460.76" y1="642.9" x2="460.76" y2="645.4" stroke="#a5a5a5" stroke-width="1"/>
<line x1="492.59999999999997" y1="642.9" x2="492.59999999999997" y2="645.4" stroke="#a5a5a5" stroke-width="1"/>
<text x="307.0" y="644.8" font-size="11" text-anchor="start" fill="#000" transform="rotate(-90 307.0 644.8)" textLength="95.82" lengthAdjust="spacingAndGlyphs">Relative expression</text>
<rect x="343.02" y="638.01" width="12.60" height="4.89" fill="#666666"/>
<text x="348.82" y="657.5" font-size="11" text-anchor="middle" fill="#000">0</text>
<rect x="374.86" y="638.01" width="12.60" height="4.89" fill="#666666"/>
<line x1="381.15999999999997" y1="638.6956" x2="381.15999999999997" y2="637.3246" stroke="#000" stroke-width="0.8"/>
<line x1="379.15999999999997" y1="637.3246" x2="383.15999999999997" y2="637.3246" stroke="#000" stroke-width="0.8"/>
<text x="380.65999999999997" y="657.5" font-size="11" text-anchor="middle" fill="#000">1</text>
<rect x="406.70" y="606.11" width="12.60" height="36.79" fill="#666666"/>
<line x1="413.0" y1="607.4825" x2="413.0" y2="604.7405" stroke="#000" stroke-width="0.8"/>
<line x1="411.0" y1="604.7405" x2="415.0" y2="604.7405" stroke="#000" stroke-width="0.8"/>
<text x="410.6" y="657.5" font-size="11" text-anchor="middle" fill="#000">2</text>
<rect x="438.54" y="599.49" width="12.60" height="43.42" fill="#666666"/>
<line x1="444.84" y1="601.313" x2="444.84" y2="597.6569999999999" stroke="#000" stroke-width="0.8"/>
<line x1="442.84" y1="597.6569999999999" x2="446.84" y2="597.6569999999999" stroke="#000" stroke-width="0.8"/>
<text x="444.34" y="657.5" font-size="11" text-anchor="middle" fill="#000">3</text>
<rect x="470.38" y="560.64" width="12.60" height="82.26" fill="#666666"/>
<line x1="476.67999999999995" y1="560.8684999999999" x2="476.67999999999995" y2="560.4114999999999" stroke="#000" stroke-width="0.8"/>
<line x1="474.67999999999995" y1="560.4114999999999" x2="478.67999999999995" y2="560.4114999999999" stroke="#000" stroke-width="0.8"/>
<text x="476.17999999999995" y="657.5" font-size="11" text-anchor="middle" fill="#000">4</text>
<text x="340.8" y="671.6" font-size="11" text-anchor="start" fill="#000" textLength="145.82" lengthAdjust="spacingAndGlyphs">Megakaryocyte culture (days)</text>
</svg></body></html>
